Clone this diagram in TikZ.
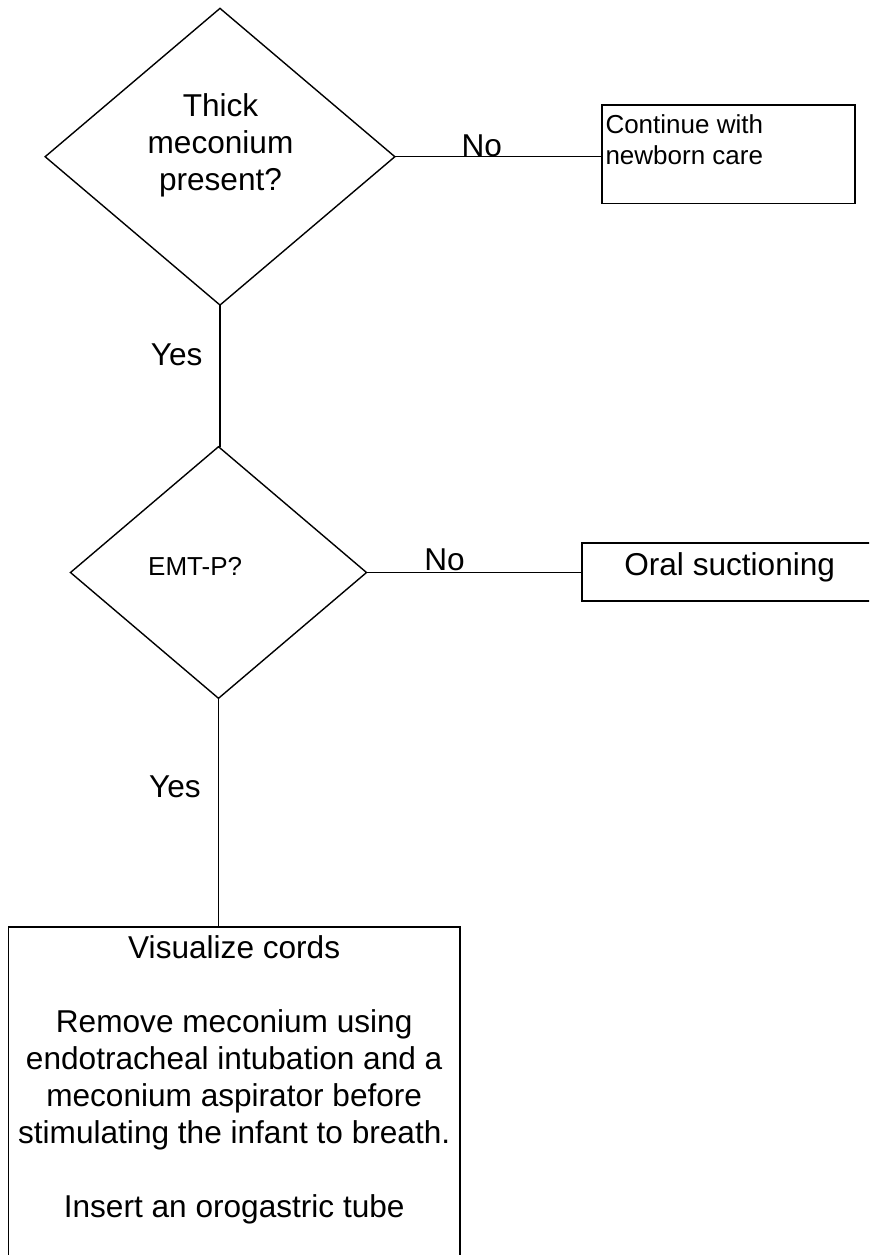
\documentclass[tikz,border=0pt]{standalone}
\usepackage{fontspec}
\setmainfont{Liberation Sans}
\usetikzlibrary{shapes.geometric}

\begin{document}
\begin{tikzpicture}[
  x=0.5pt,
  y=-0.5pt,
  every node/.style={inner sep=0pt, outer sep=0pt},
  decision/.style={draw, diamond, line width=0.7pt},
  stepbox/.style={draw, rectangle, line width=0.8pt},
  bigfont/.style={font=\fontsize{15.8pt}{18.5pt}\selectfont},
  smallfont/.style={font=\fontsize{13pt}{15.85pt}\selectfont},
  link/.style={line width=0.75pt}
]
  % ---- page frame: the last boxes run off the right and bottom edges ----
  \useasboundingbox (0,0) rectangle (869,1255);
  \clip (0,0) rectangle (869,1255);

  % ---- shapes ----
  \node[decision, minimum width=174.85pt, minimum height=148.35pt] (thick) at (220,156.7) {};
  \node[decision, minimum width=148pt, minimum height=125.8pt] (emtp) at (218.5,572.5) {};
  \node[stepbox, minimum width=126.65pt, minimum height=49.15pt] (newborn) at (728.35,154.15) {};
  \node[stepbox, minimum width=148pt, minimum height=29pt] (oral) at (729.7,571.7) {};
  \node[stepbox, minimum width=225.85pt, minimum height=190pt] (cords) at (234.15,1116.7) {};

  % ---- texts inside the shapes ----
  \node[bigfont, align=center, anchor=north] (thicktxt) at (220.5,93.2)
    {Thick\\meconium\\present?};
  \node[font=\fontsize{13pt}{15.6pt}\selectfont, anchor=base] (emtptxt) at (195.2,575) {EMT-P?};
  \node[smallfont, align=left, anchor=north west] (newborntxt) at (605.5,114.3)
    {Continue with\\newborn care};
  \node[bigfont, anchor=base] (oraltxt) at (729.7,575) {Oral suctioning};
  \node[bigfont, align=center, anchor=north] (cordstxt) at (234.2,935.5)
    {Visualize cords\\[18.5pt]
     Remove meconium using\\
     endotracheal intubation and a\\
     meconium aspirator before\\
     stimulating the infant to breath.\\[18.5pt]
     Insert an orogastric tube};

  % ---- connectors ----
  \draw[link] (thick.east) -- (thick.east -| newborn.west);
  \draw[link] (thick.south) -- (thick.south |- emtp.north);
  \draw[link] (emtp.east) -- (emtp.east -| oral.west);
  \draw[link] (emtp.south) -- (emtp.south |- cords.north);

  % ---- branch labels ----
  \node[bigfont, anchor=base] (no1) at (481.7,156.7) {No};
  \node[bigfont, anchor=base] (yes1) at (176.7,365) {Yes};
  \node[bigfont, anchor=base] (no2) at (444.5,570.7) {No};
  \node[bigfont, anchor=base] (yes2) at (175,797.3) {Yes};
\end{tikzpicture}
\end{document}
